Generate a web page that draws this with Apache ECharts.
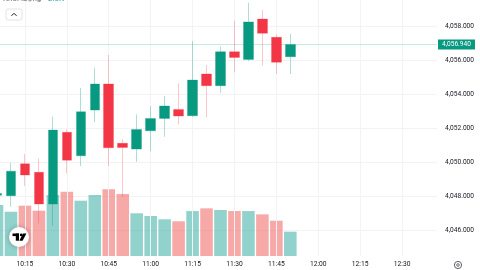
<!DOCTYPE html>
<html><head><meta charset="utf-8">
<script src="https://cdn.jsdelivr.net/npm/echarts@6/dist/echarts.min.js"></script>
<style>html,body{margin:0;padding:0;background:#fff;overflow:hidden}#c{width:480px;height:270px}</style>
</head><body><div id="c"></div>
<script>
const times = ['10:05','10:10','10:15','10:20','10:25','10:30','10:35','10:40','10:45','10:50','10:55',
  '11:00','11:05','11:10','11:15','11:20','11:25','11:30','11:35','11:40','11:45','11:50','11:55',
  '12:00','12:05','12:10','12:15','12:20','12:25','12:30','12:35','12:40'];
const opens  = [4048.05,4048.02,4049.90,4049.40,4047.53,4051.76,4050.38,4053.07,4054.61,4051.11,4050.77,
  4051.85,4052.58,4053.11,4052.74,4055.20,4054.51,4056.51,4056.06,4058.44,4057.36,4056.22];
const closes = [4048.15,4049.47,4049.24,4047.53,4051.89,4050.12,4052.97,4054.61,4050.85,4050.87,4051.93,
  4052.58,4053.31,4052.72,4054.84,4054.51,4056.51,4056.18,4058.27,4057.60,4055.89,4056.94];
const lows   = [4047.60,4047.37,4048.59,4046.39,4046.25,4049.34,4049.77,4052.35,4049.77,4047.96,4050.02,
  4050.65,4051.50,4052.23,4052.66,4052.64,4054.09,4055.30,4055.96,4055.69,4055.20,4055.20];
const highs  = [4048.60,4049.96,4050.48,4050.22,4052.68,4051.95,4054.37,4055.57,4056.32,4051.36,4052.82,
  4053.31,4053.90,4054.65,4057.14,4055.73,4056.81,4058.34,4059.40,4058.97,4057.54,4057.56];
const volumesK = [5.88,5.10,5.80,5.22,7.03,7.41,6.37,7.03,7.68,7.14,4.92,
  4.61,4.23,4.00,5.18,5.49,5.30,5.18,5.18,4.80,4.07,2.80];
const xTickLabels = ['10:15','10:30','10:45','11:00','11:15','11:30','11:45','12:00','12:15','12:30'];
const lastPrice = 4056.94;
const lastVolume = 2.8;
const legendTitle = 'Khối lượng';
const legendValue = '2.8K';

const UP = '#089981', DOWN = '#F23645';
const UP_WICK = 'rgba(8,153,129,0.32)', DOWN_WICK = 'rgba(242,54,69,0.28)';
const VOL_UP = 'rgba(38,166,154,0.5)', VOL_DOWN = 'rgba(239,83,80,0.5)';
const GRID = '#f1f3f6';
const FONT = 'Roboto';

function fmtPrice(v){
  const s = v.toFixed(3);
  const [ip, dp] = s.split('.');
  return ip.replace(/\B(?=(\d{3})+(?!\d))/g, ',') + '.' + dp;
}

const candleData = opens.map((o,i)=>[o, closes[i], lows[i], highs[i]]);
const volData = volumesK.map((v,i)=>({value:v, itemStyle:{color: closes[i] >= opens[i] ? VOL_UP : VOL_DOWN}}));

const chart = echarts.init(document.getElementById('c'), null, {renderer:'canvas'});
chart.setOption({
  animation:false,
  backgroundColor:'#ffffff',
  textStyle:{fontFamily:FONT},
  grid:[
    {left:-9.98, right:43, top:-7.4, bottom:40, containLabel:false, outerBoundsMode:'none'},
    {left:-9.98, right:43, top:0, bottom:14, containLabel:false, outerBoundsMode:'none'}
  ],
  xAxis:[
    {type:'category', gridIndex:0, data:times, boundaryGap:true, show:false},
    {type:'category', gridIndex:1, data:times, boundaryGap:true,
     axisLine:{show:false}, axisTick:{show:false}, splitLine:{show:false},
     axisLabel:{interval:(i,v)=>xTickLabels.includes(v), color:'#131722', fontSize:6.7, margin:5, fontFamily:FONT}}
  ],
  yAxis:[
    {type:'value', gridIndex:0, position:'right', min:4046, max:4060, interval:2,
     axisLine:{show:false}, axisTick:{show:false},
     splitLine:{show:true, lineStyle:{color:GRID, width:1}},
     axisLabel:{formatter:v=> v===4060 ? '' : fmtPrice(v), color:'#131722', fontSize:6.6, align:'right', margin:37, fontFamily:FONT}},
    {type:'value', gridIndex:1, min:0, max:29.5, show:false, splitLine:{show:false}}
  ],
  series:[
    {type:'bar', xAxisIndex:1, yAxisIndex:1, data:volData, barWidth:'90%', z:2,
     markLine:{silent:true, symbol:'none', animation:false,
       data:[
         ...xTickLabels.map(t=>({xAxis:t, lineStyle:{color:GRID, width:1, type:'solid'}, label:{show:false}})),
         {yAxis:lastVolume, lineStyle:{opacity:0}, label:{show:true, position:'end', distance:1,
           formatter:legendValue, color:'#fff', backgroundColor:'#26a69a', padding:[2,4,1,4], fontSize:6.6, fontFamily:FONT}}
       ]}},
    {type:'candlestick', xAxisIndex:0, yAxisIndex:0, data:candleData, barWidth:10, z:5,
     itemStyle:{color:UP, color0:DOWN, borderColor:UP_WICK, borderColor0:DOWN_WICK, borderWidth:1},
     markLine:{silent:true, symbol:'none', animation:false,
       data:[{yAxis:lastPrice, lineStyle:{color:'rgba(8,153,129,0.22)', width:1, type:'solid'},
         label:{show:true, position:'end', distance:1, formatter:fmtPrice(lastPrice), color:'#fff',
           backgroundColor:UP, padding:[2,4,1,4], fontSize:6.6, fontFamily:FONT}}]}}
  ],
  graphic:[
    {type:'text', z:100, x:3, y:-1.5, style:{text:legendTitle, fill:'#6a6d78', font:'8px Roboto', verticalAlign:'middle'}},
    {type:'text', z:100, x:48, y:-1.5, style:{text:legendValue, fill:'#26a69a', font:'8px Roboto', verticalAlign:'middle'}},
    {type:'rect', z:100, shape:{x:6, y:9, width:16, height:11, r:2}, style:{fill:'#fff', stroke:'#e0e3eb', lineWidth:1}},
    {type:'polyline', z:101, shape:{points:[[11.5,15.8],[14,13.3],[16.5,15.8]]}, style:{stroke:'#131722', lineWidth:1, fill:null}},
    {type:'circle', z:100, shape:{cx:19, cy:237, r:10}, style:{fill:'#fff', shadowBlur:5, shadowColor:'rgba(0,0,0,0.28)'}},
    {type:'rect', z:101, shape:{x:12.5, y:233.5, width:6.5, height:2.6}, style:{fill:'#000'}},
    {type:'rect', z:101, shape:{x:15.8, y:233.5, width:3.2, height:7.2}, style:{fill:'#000'}},
    {type:'circle', z:101, shape:{cx:21.2, cy:234.9, r:1.35}, style:{fill:'#000'}},
    {type:'polygon', z:101, shape:{points:[[23,233.5],[26.4,233.5],[22.6,240.7],[19.3,240.7]]}, style:{fill:'#000'}},
    {type:'circle', z:100, shape:{cx:458, cy:265, r:3.6}, style:{fill:'none', stroke:'#5d606b', lineWidth:1}},
    {type:'circle', z:100, shape:{cx:458, cy:265, r:1.3}, style:{fill:'none', stroke:'#5d606b', lineWidth:0.9}}
  ]
});
</script>
</body></html>
